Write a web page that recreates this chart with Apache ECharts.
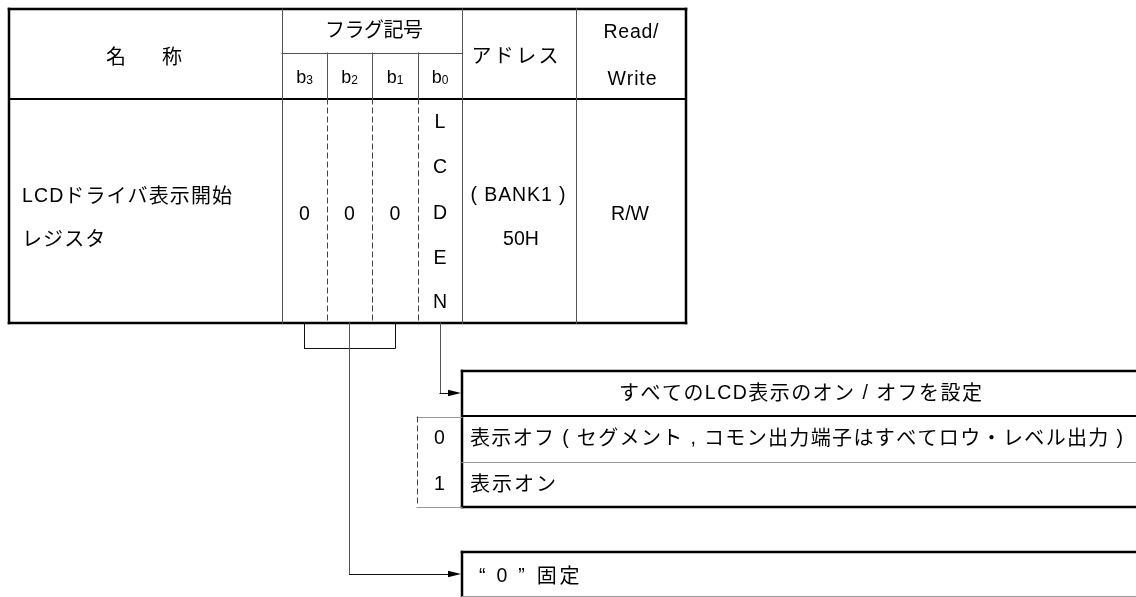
<!DOCTYPE html>
<html><head><meta charset="utf-8">
<script src="https://cdn.jsdelivr.net/npm/echarts@6/dist/echarts.min.js"></script>
<style>html,body{margin:0;padding:0;background:#fff}#c{width:1136px;height:597px}</style>
</head><body><div id="c"></div>
<script>
// ---------- data (texts and values) ----------
const headerName = '名　　称';
const headerFlag = 'フラグ記号';
const bitNames = ['b3', 'b2', 'b1', 'b0'];
const bitValues = ['0', '0', '0', 'LCDEN'];
const headerAddress = 'アドレス';
const headerRW = ['Read/', 'Write'];
const registerName = ['LCDドライバ表示開始', 'レジスタ'];
const addressLines = ['( BANK1 )', '50H'];
const rwValue = 'R/W';
const lcdenTitle = 'すべてのLCD表示のオン / オフを設定';
const lcdenValues = ['0', '1'];
const lcdenMeanings = ['表示オフ ( セグメント , コモン出力端子はすべてロウ・レベル出力 )', '表示オン'];
const fixedText = '“ 0 ”固定';

// ---------- layout (positions / sizes, kept separate) ----------
const W = 1136, H = 597;
const colX = [9, 282, 327, 372, 418, 462, 576, 686];
const rowY = [9, 53, 99, 323];
const bitCenters = [0, 1, 2, 3].map(i => (colX[i + 1] + colX[i + 2]) / 2);
const FAMILY = '"Liberation Sans", "Noto Sans CJK JP", sans-serif';
const LATIN = 19.5, CJK = 20;
const box1 = { x: 462, top: 371, titleBottom: 416, rowMid: 462, bottom: 507, valX: 417 };
const box2 = { x: 462, top: 552, bottom: 596 };
const bracketY = 348;
const arrowY1 = 393, arrowY2 = 574;
const lcdenYs = [123, 168, 214, 259, 303];

const STY = {
  thick: { stroke: '#000', lineWidth: 2.5 },
  mid: { stroke: '#000', lineWidth: 2 },
  thin: { stroke: '#555', lineWidth: 1 },
  light: { stroke: '#999', lineWidth: 1 },
  dash: { stroke: '#444', lineWidth: 1, lineDash: [5, 4] },
  black: { stroke: '#111', lineWidth: 1 }
};

// ---------- build segments ----------
const segs = [];
function seg(x1, y1, x2, y2, s) { segs.push([x1, y1, x2, y2, s]); }
seg(colX[0], rowY[0], colX[7], rowY[0], 'thick');
seg(colX[0], rowY[3], colX[7], rowY[3], 'thick');
seg(colX[0], rowY[0], colX[0], rowY[3], 'thick');
seg(colX[7], rowY[0], colX[7], rowY[3], 'thick');
seg(colX[0], rowY[2], colX[7], rowY[2], 'mid');
seg(colX[1], rowY[1], colX[5], rowY[1], 'thin');
[1, 5, 6].forEach(i => seg(colX[i], rowY[0], colX[i], rowY[3], 'thin'));
[2, 3, 4].forEach(i => { seg(colX[i], rowY[1], colX[i], rowY[2], 'thin'); seg(colX[i], rowY[2], colX[i], rowY[3], 'dash'); });
seg(bitCenters[0], rowY[3], bitCenters[0], bracketY, 'black');
seg(bitCenters[0], bracketY, bitCenters[2], bracketY, 'black');
seg(bitCenters[2], bracketY, bitCenters[2], rowY[3], 'black');
seg(bitCenters[1], rowY[3], bitCenters[1], arrowY2, 'thin');
seg(bitCenters[1], arrowY2, box2.x - 12, arrowY2, 'black');
seg(bitCenters[3], rowY[3], bitCenters[3], arrowY1, 'thin');
seg(bitCenters[3], arrowY1, box1.x - 12, arrowY1, 'black');
seg(box1.x, box1.top, W, box1.top, 'thick');
seg(box1.x, box1.top, box1.x, box1.bottom, 'thick');
seg(box1.x, box1.titleBottom, W, box1.titleBottom, 'mid');
seg(box1.x, box1.rowMid, W, box1.rowMid, 'light');
seg(box1.x, box1.bottom, W, box1.bottom, 'thick');
seg(box1.valX, box1.titleBottom + 1, box1.x, box1.titleBottom + 1, 'light');
seg(box1.valX, box1.bottom, box1.x, box1.bottom, 'light');
seg(box1.valX, box1.titleBottom + 1, box1.valX, box1.bottom, 'dash');
seg(box2.x, box2.top, W, box2.top, 'thick');
seg(box2.x, box2.top, box2.x, H, 'thick');
seg(box2.x, box2.bottom, W, box2.bottom, 'light');

const arrows = [[box1.x - 1, arrowY1], [box2.x - 1, arrowY2]];

// ---------- build text items ----------
// opt.width: target total width (tracking derived); opt.track: fixed tracking; opt.extra: {charIndex: extra gap before it}
const texts = [];
function txt(str, x, y, align, opt) { texts.push(Object.assign({ str, x, y, align, track: 0 }, opt || {})); }
txt(headerName, 144, 58, 'center', { width: 76 });
txt(headerFlag, 374, 31, 'center', { width: 98 });
bitNames.forEach((b, i) => texts.push({ bit: true, str: b, x: bitCenters[i], y: 78 }));
txt(headerAddress, 515, 57, 'center', { width: 87 });
txt(headerRW[0], 631, 33, 'center', { width: 55 });
txt(headerRW[1], 632, 80, 'center', { width: 49 });
txt(registerName[0], 22, 197, 'left', { width: 210 });
txt(registerName[1], 22, 240, 'left', { track: 1.1 });
bitValues.forEach((v, i) => {
  if (v.length === 1) txt(v, bitCenters[i], 215, 'center');
  else v.split('').forEach((ch, k) => txt(ch, bitCenters[i], lcdenYs[k], 'center'));
});
txt(addressLines[0], 518, 196, 'center', { width: 95 });
txt(addressLines[1], 521, 240, 'center', { track: 0 });
txt(rwValue, 630, 215, 'center', { track: 0 });
txt(lcdenTitle, 800.5, 394, 'center', { width: 363 });
lcdenValues.forEach((v, i) => txt(v, (box1.valX + box1.x) / 2, [439, 485][i], 'center'));
txt(lcdenMeanings[0], 470, 439, 'left', { width: 653 });
txt(lcdenMeanings[1], 470, 485, 'left', { width: 86 });
txt(fixedText, 479, 577, 'left', { track: 2.8, extra: { 5: 9 } });

const mctx = document.createElement('canvas').getContext('2d');
function isCJK(ch) { return ch.charCodeAt(0) >= 0x3000; }
function sizeOf(ch) { return isCJK(ch) ? CJK : LATIN; }
function mw(ch, size) { mctx.font = size + 'px ' + FAMILY; return mctx.measureText(ch).width; }

const chart = echarts.init(document.getElementById('c'), null, { renderer: 'canvas' });
function crisp(v, lw) { return (lw % 2 === 1) ? Math.round(v - 0.5) + 0.5 : Math.round(v); }

chart.setOption({
  backgroundColor: '#fff',
  animation: false,
  grid: { left: 0, right: 0, top: 0, bottom: 0 },
  xAxis: { type: 'value', min: 0, max: W, show: false },
  yAxis: { type: 'value', min: 0, max: H, inverse: true, show: false },
  series: [
    {
      type: 'custom', clip: false, silent: true,
      data: segs.map(s => [s[0], s[1], s[2], s[3]]),
      renderItem: function (params, api) {
        const s = segs[params.dataIndex];
        const st = STY[s[4]];
        const p1 = api.coord([api.value(0), api.value(1)]);
        const p2 = api.coord([api.value(2), api.value(3)]);
        const lw = st.lineWidth;
        let x1 = p1[0], y1 = p1[1], x2 = p2[0], y2 = p2[1];
        if (x1 === x2) { x1 = x2 = crisp(x1, lw); }
        if (y1 === y2) { y1 = y2 = crisp(y1, lw); }
        return { type: 'line', shape: { x1, y1, x2, y2 },
          style: { stroke: st.stroke, lineWidth: lw, lineDash: st.lineDash || null, lineCap: 'square' } };
      }
    },
    {
      type: 'custom', clip: false, silent: true,
      data: arrows,
      renderItem: function (params, api) {
        const p = api.coord([api.value(0), api.value(1)]);
        return { type: 'polygon', shape: { points: [[p[0] - 13, p[1] - 3.2], [p[0], p[1]], [p[0] - 13, p[1] + 3.2]] },
          style: { fill: '#000' } };
      }
    },
    {
      type: 'custom', clip: false, silent: true,
      data: texts.map(t => [t.x, t.y]),
      renderItem: function (params, api) {
        const t = texts[params.dataIndex];
        const p = api.coord([api.value(0), api.value(1)]);
        if (t.bit) {
          const wb = mw('b', 18), wd = mw(t.str[1], 12);
          const x0 = p[0] - (wb + wd) / 2;
          return { type: 'group', children: [
            { type: 'text', x: x0, y: p[1], style: { text: 'b', fontSize: 18, fontFamily: FAMILY, fill: '#000', align: 'left', verticalAlign: 'middle' } },
            { type: 'text', x: x0 + wb, y: p[1] + 3, style: { text: t.str[1], fontSize: 12, fontFamily: FAMILY, fill: '#000', align: 'left', verticalAlign: 'middle' } }
          ] };
        }
        const chars = Array.from(t.str);
        const ws = chars.map(c => mw(c, sizeOf(c)));
        const extra = t.extra || {};
        const extraSum = Object.keys(extra).reduce((a, k) => a + extra[k], 0);
        const natural = ws.reduce((a, b) => a + b, 0) + extraSum;
        const track = (t.width != null && chars.length > 1) ? (t.width - natural) / (chars.length - 1) : t.track;
        const total = natural + track * (chars.length - 1);
        let x = t.align === 'center' ? p[0] - total / 2 : p[0];
        const children = [];
        chars.forEach((c, k) => {
          x += extra[k] || 0;
          if (c.trim() !== '' && c !== '　') {
            children.push({ type: 'text', x: x, y: p[1], style: { text: c, fontSize: sizeOf(c), fontFamily: FAMILY, fill: '#000', align: 'left', verticalAlign: 'middle' } });
          }
          x += ws[k] + track;
        });
        return { type: 'group', children };
      }
    }
  ]
});
</script>
</body></html>
